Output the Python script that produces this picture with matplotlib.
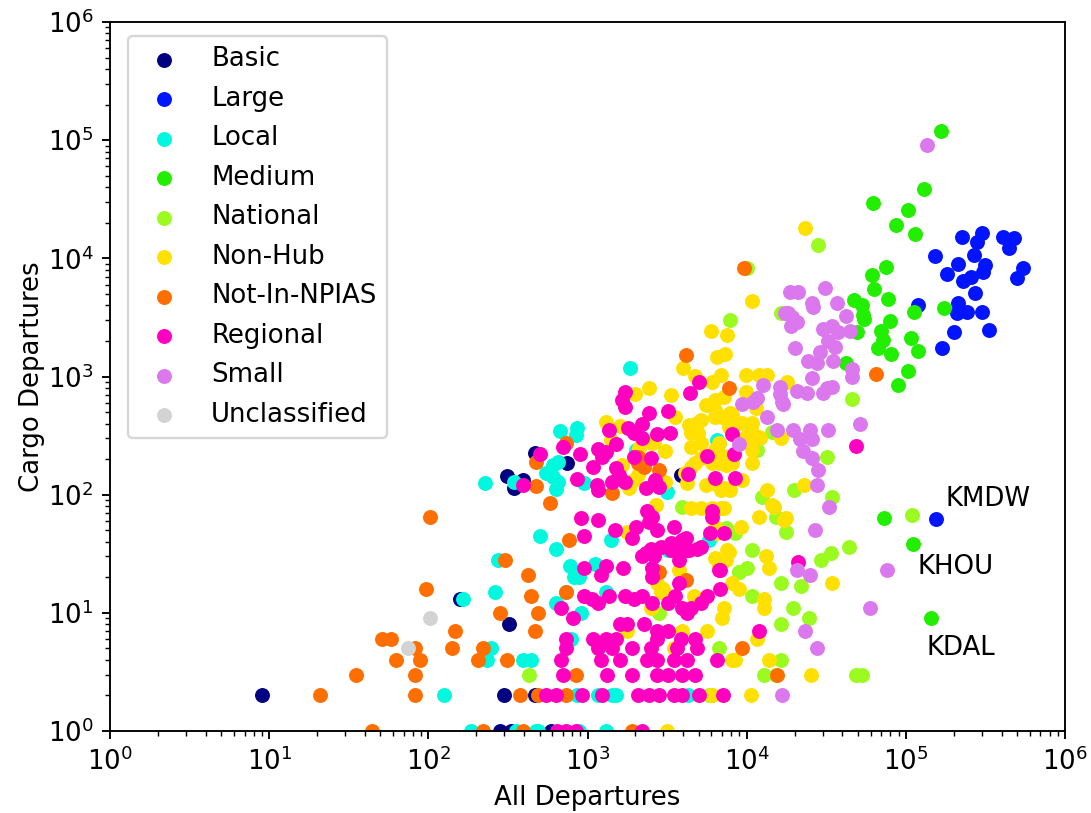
import matplotlib
matplotlib.use("Agg")
import matplotlib.pyplot as plt
from matplotlib.ticker import NullFormatter

categories = ["Basic", "Large", "Local", "Medium", "National", "Non-Hub",
              "Not-In-NPIAS", "Regional", "Small", "Unclassified"]
colors = ["#000080", "#0014FF", "#00F8DE", "#22EE00", "#9BFA20", "#FFE000",
          "#FF6E00", "#FF00C0", "#DC78EE", "#D3D3D3"]
decade_ticks = [1, 10, 100, 1000, 10000, 100000, 1000000]

# (all departures, cargo departures) per airport, grouped by category
basic = [(310,144),(343,114),(395,133),(471,225),(748,185),(3840,147),(323,8),(300,2),
         (471,2),(284,1),(333,1),(594,1),(9,2),(159,13)]
large = [(225000,15100),(300000,16400),(280000,13700),(408000,15100),(478000,14900),
         (445000,12200),(152000,10500),(268000,10700),(212000,8950),(314000,8770),
         (305000,7660),(181000,7360),(228000,6430),(256000,6950),(545000,8280),
         (499000,6810),(272000,5090),(212000,4190),(209000,3440),(242000,3510),
         (300000,3510),(119000,4030),(200000,2380),(333000,2470),(168000,1740),(155000,62)]
local = [(228,126),(343,128),(676,346),(853,366),(846,320),(611,178),(657,189),(552,152),
         (611,141),(657,128),(630,112),(944,126),(506,45),(1400,41),(630,35),(1860,1180),
         (2030,239),(3140,105),(6470,290),(275,28),(781,25),(1120,26),(264,15),(164,13),
         (817,20),(878,20),(738,15),(638,12),(916,10),(1300,15),(793,6),(249,5),(232,4),
         (395,4),(444,4),(3200,34),(125,2),(853,2),(1420,2),(1500,2),(492,1),(1300,1),
         (186,1),(5760,41),(6660,274),(357,1),(478,1),(878,1),(1170,2),(4250,2)]
medium = [(166000,119000),(130000,38600),(61900,29400),(103000,25600),(86500,19100),
          (114000,16100),(74800,8450),(61100,7220),(62900,5500),(77100,4530),(47100,4440),
          (52800,4030),(53700,3310),(54400,3070),(49200,2380),(79300,2950),(69700,2430),
          (71600,2040),(66700,1740),(80500,1550),(107000,2120),(119000,1640),(112000,3510),
          (173000,3800),(42000,1300),(103000,1110),(89100,847),(72700,63),(111000,38),
          (144000,9)]
national = [(10100,8280),(7900,3000),(16400,3480),(28000,13000),(45800,646),(11600,239),
            (14400,339),(31800,208),(12400,96),(19800,110),(34200,96),(8500,47),(7370,52),
            (17600,48),(10750,34),(43800,36),(29200,28),(33700,32),(8900,22),(10000,24),
            (16400,18),(21900,17),(10750,14),(19500,11),(24500,9),(16400,8),(6660,5),
            (16400,4),(12800,3),(15200,3),(48500,3),(52800,3),(109000,67),(3900,78),
            (15200,65),(431,3),(9000,22),(2800,10),(5760,2)]
non_hub = [(23100,18000),(10800,4350),(6000,2430),(7470,2240),(6470,1460),(7270,1550),
           (4000,1180),(4770,1010),(6020,898),(6860,1030),(2420,800),(2000,711),(3330,697),
           (9860,1030),(11900,1030),(13400,1030),(17900,898),(6280,633),(6280,520),(6370,454),
           (7160,670),(4850,404),(4320,388),(4500,333),(4980,333),(3570,454),(1300,412),
           (6950,454),(7700,374),(9860,308),(10600,352),(11900,308),(8640,404),(2530,274),
           (3090,234),(4500,253),(5130,274),(4070,152),(4440,171),(4770,185),(5130,204),
           (6370,239),(6860,217),(7370,178),(8060,185),(10750,185),(5520,121),(6020,126),
           (7160,114),(7900,110),(9300,133),(1950,133),(2090,147),(1640,178),(2800,126),
           (3090,128),(1810,114),(2680,82),(4500,77),(5130,77),(6020,77),(7160,77),(9150,53),
           (11900,65),(6370,53),(6470,47),(1760,48),(6660,185),(4190,126),(6860,110),
           (13400,110),(14400,82),(17100,61),(13200,30),(13800,24),(6370,29),(6660,25),
           (7470,34),(3740,23),(2720,18),(3000,16),(8060,18),(8900,16),(4640,14),(5520,574),
           (8060,472),(9300,404),(10750,404),(6660,274),(10600,279),(12200,302),(10750,239),
           (6020,185),(22800,121),(14800,79),(17600,63),(6860,77),(34200,18),(12800,13),
           (12800,11),(7160,11),(6950,9),(5600,7),(11600,6),(13800,4),(8060,4),(8500,4),
           (25300,3),(10600,2),(6020,2),(7700,33),(7370,28),(3900,7),(3140,1),(2880,15),
           (2490,11),(3470,5),(1760,7),(16400,302),(7370,208),(5130,427),(7900,493),
           (11400,540),(9860,740),(2600,279),(6100,2),(1600,380),(1400,290),(2100,250)]
not_in_npias = [(9600,8300),(4130,1520),(7700,800),(64700,1050),(9300,5),(15400,3),
                (478,189),(738,274),(478,118),(585,85),(760,41),(1420,103),(2090,208),
                (2250,171),(2800,162),(305,28),(425,21),(738,15),(444,14),(284,10),(492,10),
                (471,7),(148,7),(140,5),(222,5),(206,4),(310,4),(841,3),(4130,19),(379,2),
                (492,2),(738,2),(222,1),(395,1),(1890,1),(97,16),(51,6),(58,6),(83,5),(63,4),
                (89,4),(35,3),(82,3),(21,2),(82,2),(44,1),(103,65),(2090,185),(2800,22)]
regional = [(1730,740),(1640,630),(1730,550),(5000,900),(4400,720),(3200,510),(2450,490),
            (2200,400),(1360,350),(1790,366),(1950,330),(2190,300),(2720,326),(3280,330),
            (8060,326),(1520,268),(1170,243),(1300,230),(1240,208),(900,221),(700,253),
            (500,221),(1950,208),(2490,204),(5600,212),(8270,221),(1080,171),(1520,168),
            (1570,147),(1420,128),(1710,128),(853,136),(1140,121),(1160,110),(2320,114),
            (2640,133),(2800,116),(4250,150),(6280,138),(8500,138),(395,121),
            (916,63),(1160,61),(1480,50),(2030,53),(2380,73),(2530,65),(2720,50),(3520,53),
            (6020,73),(6100,65),(5860,47),(7160,47),(944,45),(1890,43),(4130,43),(2420,59),
            (3370,39),(3900,41),(3370,34),(3740,32),(4320,34),(5130,36),(2320,32),(2600,30),
            (3740,28),(6660,23),(20900,27),(48500,260),
            (944,24),(1300,25),(1680,24),(1210,21),(2200,30),(2490,35),(2880,36),(3740,37),
            (4190,34),(4850,35),(2530,24),(2560,20),(3740,18),(6770,23),(6770,16),(944,14),
            (1060,13),(1170,12),(1360,14),(1730,14),(1950,13),(2200,14),(2530,12),(3200,12),
            (3570,14),(3900,11),(4190,10),(4500,11),(5200,12),(5600,14),(686,11),(805,9),
            (1610,8),(1760,8),(2250,8),(2720,7),(3200,7),(3840,6),(4770,6),(11900,7),(738,6),
            (1090,6),(1300,6),(1500,6),(738,5),(1170,5),(1420,5),(1890,5),(2490,5),(2720,6),
            (3630,5),(4850,5),(686,4),(1220,4),(1610,4),(2350,4),(2720,4),(3470,4),(4190,4),
            (6470,4),(700,3),(1320,3),(1890,3),(2720,3),(3200,3),(3900,3),(4770,3),
            (552,2),(638,2),(930,2),(1240,2),(2090,2),(2420,2),(2800,2),(3470,2),(3900,2),
            (5050,2),(7050,2),(640,1),(728,1),(841,1),(2190,1)]
small = [(136000,91000),(18600,5140),(20900,5140),(31000,5660),(25600,4200),(36800,4200),
         (41900,3280),(18100,3480),(20600,2920),(18900,2650),(30000,2500),(34200,2650),
         (37300,2360),(44500,2410),(20000,1730),(32300,1980),(35700,1790),(28800,1600),
         (24200,1340),(27600,1310),(34700,1340),(45800,1150),(45800,1000),(25600,980),
         (16100,822),(20600,747),(34200,822),(23800,732),(30000,732),(16600,614),(51300,393),
         (19500,356),(24900,356),(32300,356),(21500,293),(25600,293),(12600,855),(16100,705),
         (9300,580),(10900,614),(16800,580),(13400,450),(15400,356),(22500,232),(25600,206),
         (8900,266),(28000,163),(27600,120),(32800,79),(26800,50),(20600,23),(25100,21),
         (76000,23),(59400,11),(23200,7),(27600,5),(16600,2),(17300,3480),(19200,3160),
         (11600,664),(26000,3840),(31800,807)]
unclassified = [(75,5),(103,9)]

series = [basic, large, local, medium, national, non_hub, not_in_npias, regional,
          small, unclassified]

labeled = [("KMDW", 155000, 62, (4, 3), "left", "bottom"),
           ("KHOU", 111000, 38, (2, -4), "left", "top"),
           ("KDAL", 144000, 9, (-2, -7), "left", "top")]

DPI = 170
fig = plt.figure(figsize=(1091 / DPI, 813 / DPI), dpi=DPI)
ax = fig.add_axes([110 / 1091, 1 - 731 / 813, 955 / 1091, 709 / 813])

for name, col, pts in zip(categories, colors, series):
    xs, ys = zip(*pts)
    ax.scatter(xs, ys, s=40, color=col, label=name, linewidths=0)

for txt, x, y, off, ha, va in labeled:
    ax.annotate(txt, (x, y), xytext=off, textcoords="offset points",
                ha=ha, va=va, fontsize=11)

ax.set_xscale("log")
ax.set_yscale("log")
ax.set_xticks(decade_ticks)
ax.set_yticks(decade_ticks)
ax.set_xlim(1, 1e6)
ax.set_ylim(1, 1e6)
ax.xaxis.set_minor_formatter(NullFormatter())
ax.yaxis.set_minor_formatter(NullFormatter())
ax.set_xlabel("All Departures", fontsize=11)
ax.set_ylabel("Cargo Departures", fontsize=11, labelpad=1)
ax.tick_params(labelsize=11)
ax.legend(loc="upper left", fontsize=11, labelspacing=0.52,
          bbox_to_anchor=(18 / 955, 695 / 709), borderaxespad=0)

fig.savefig("out.png", dpi=DPI)
